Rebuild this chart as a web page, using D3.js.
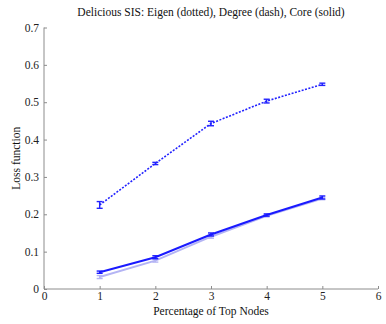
<!DOCTYPE html>
<html>
<head>
<meta charset="utf-8">
<script src="https://cdn.jsdelivr.net/npm/d3@7"></script>
<style>
  body { margin: 0; background: #fff; }
</style>
</head>
<body>
<div id="chart"></div>
<script>
const xs = [1, 2, 3, 4, 5]
const eigen = [0.225, 0.336, 0.443, 0.503, 0.548]
const eigenErr = [0.009, 0.003, 0.006, 0.005, 0.003]
const degree = [0.032, 0.076, 0.140, 0.196, 0.242]
const degreeErr = [0.004, 0.004, 0.004, 0.003, 0.003]
const core = [0.045, 0.085, 0.146, 0.198, 0.245]
const coreErr = [0.003, 0.004, 0.004, 0.003, 0.004]
const xTicks = [0, 1, 2, 3, 4, 5, 6]
const yTicks = [0, 0.1, 0.2, 0.3, 0.4, 0.5, 0.6, 0.7]

const W = 386, H = 324
const margin = {top: 27.5, bottom: 35, left: 44, right: 8}
const serif = '"Liberation Serif", "Times New Roman", serif'
const fs = 11.5

const svg = d3.select('#chart').append('svg')
  .attr('width', W).attr('height', H)
  .attr('font-family', serif)

const x = d3.scaleLinear().domain([0, 6]).range([margin.left, W - margin.right])
const y = d3.scaleLinear().domain([0, 0.7]).range([H - margin.bottom, margin.top])

// axes, ticks pointing inward
const xax = svg.append('g')
  .attr('transform', 'translate(0,' + y(0) + ')')
  .call(d3.axisTop(x).tickValues(xTicks).tickSize(3).tickFormat(d3.format('d')))
xax.selectAll('text').attr('y', 3).attr('dy', '0.71em')
const yax = svg.append('g')
  .attr('transform', 'translate(' + x(0) + ',0)')
  .call(d3.axisRight(y).tickValues(yTicks).tickSize(3).tickFormat(d => d === 0 ? '0' : d3.format('.1f')(d)))
yax.selectAll('text').attr('x', -5).attr('text-anchor', 'end')
xax.attr('font-family', serif).attr('font-size', fs)
yax.attr('font-family', serif).attr('font-size', fs)
svg.selectAll('.domain').attr('stroke', '#8c8c8c')
svg.selectAll('.tick line').attr('stroke', '#8c8c8c')
svg.selectAll('.tick text').attr('fill', '#222')
xax.select('.domain').attr('d', 'M' + x(0) + ',0H' + x(6))
yax.select('.domain').attr('d', 'M0,' + y(0) + 'V' + y(0.7))

const series = [
  {vals: degree, err: degreeErr, color: '#b4b4f4', width: 2, dash: null},
  {vals: core, err: coreErr, color: '#1a1aff', width: 2, dash: null},
  {vals: eigen, err: eigenErr, color: '#2222ff', width: 1.6, dash: '2,1.5'}
]
const line = d3.line().x(d => x(d[0])).y(d => y(d[1]))

series.forEach(s => {
  const pts = xs.map((v, i) => [v, s.vals[i], s.err[i]])
  svg.append('path').datum(pts)
    .attr('d', line).attr('fill', 'none')
    .attr('stroke', s.color).attr('stroke-width', s.width)
    .attr('stroke-dasharray', s.dash)
  const eb = svg.append('g').attr('stroke', s.color).attr('stroke-width', 1.4)
  pts.forEach(p => {
    const cx = x(p[0]), y1 = y(p[1] - p[2]), y2 = y(p[1] + p[2])
    eb.append('line').attr('x1', cx).attr('x2', cx).attr('y1', y1).attr('y2', y2)
    eb.append('line').attr('x1', cx - 3).attr('x2', cx + 3).attr('y1', y1).attr('y2', y1)
    eb.append('line').attr('x1', cx - 3).attr('x2', cx + 3).attr('y1', y2).attr('y2', y2)
  })
})

svg.append('text').attr('x', (x(0) + x(6)) / 2).attr('y', 16)
  .attr('text-anchor', 'middle').attr('font-size', fs).attr('fill', '#111')
  .text('Delicious SIS: Eigen (dotted), Degree (dash), Core (solid)')
svg.append('text').attr('x', (x(0) + x(6)) / 2).attr('y', 315)
  .attr('text-anchor', 'middle').attr('font-size', fs).attr('fill', '#111')
  .text('Percentage of Top Nodes')
svg.append('text').attr('transform', 'translate(20,' + y(0.35) + ') rotate(-90)')
  .attr('text-anchor', 'middle').attr('font-size', fs).attr('fill', '#111')
  .text('Loss function')
</script>
</body>
</html>
